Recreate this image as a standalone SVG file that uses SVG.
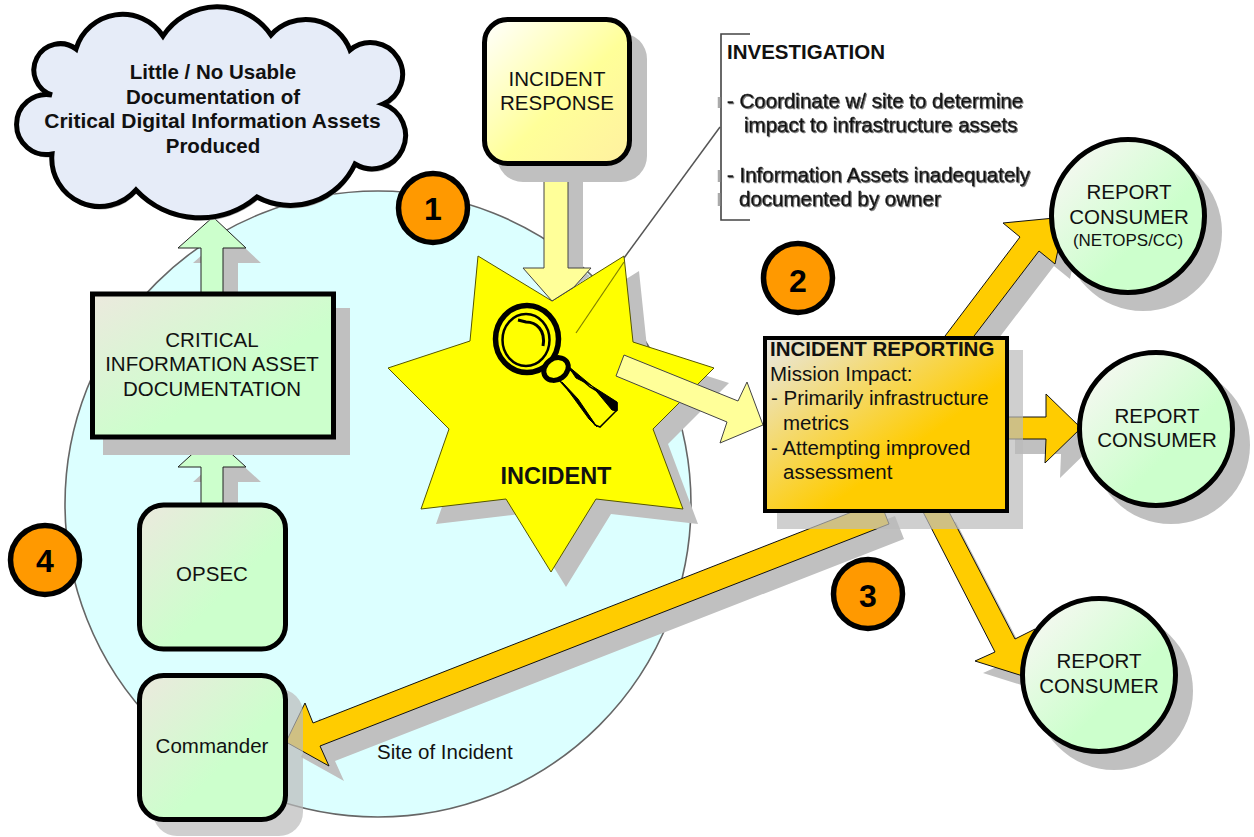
<svg xmlns="http://www.w3.org/2000/svg" xmlns:xlink="http://www.w3.org/1999/xlink" width="1254" height="837" viewBox="0 0 1254 837">
<style>
text{font-family:"Liberation Sans",Arial,sans-serif;font-size:20.5px;fill:#111}
.m{text-anchor:middle}
.b{font-weight:bold}
.sh{fill:#c0c0c0;stroke:none}
.tsh{fill:#bababa;opacity:.7;stroke:none}
.box{stroke:#000;stroke-width:5}
.num{fill:#ff9900;stroke:#000;stroke-width:5.5}
.n{font-size:32px;text-anchor:middle;font-weight:bold;fill:#000}
.ag{fill:#ccffcc;stroke:#222;stroke-width:1}
.ay{fill:#ffff99;stroke:#444;stroke-width:1}
.ao{fill:#ffcc00;stroke:#111;stroke-width:1}
.inv{stroke:#222;stroke-width:.45;filter:url(#ts)}
</style>
<defs>
<linearGradient id="gGreen" x1="0" y1="0" x2="1" y2="1"><stop offset="0" stop-color="#ece9de"/><stop offset=".6" stop-color="#ccffcc"/></linearGradient>
<linearGradient id="gCirc" x1="0" y1="0" x2="1" y2="1"><stop offset=".12" stop-color="#f4f8f0"/><stop offset=".62" stop-color="#ccffcc"/></linearGradient>
<linearGradient id="gYel" x1="0" y1="0" x2="1" y2="1"><stop offset="0" stop-color="#ffffff"/><stop offset=".55" stop-color="#ffff99"/><stop offset="1" stop-color="#fff0a0"/></linearGradient>
<linearGradient id="gOr" x1="0" y1="0" x2="1" y2="1"><stop offset="0" stop-color="#e8e8e8"/><stop offset=".62" stop-color="#ffcc00"/></linearGradient>
<filter id="ts" x="-5%" y="-30%" width="110%" height="160%"><feDropShadow dx="1" dy="1" stdDeviation=".5" flood-color="#777"/></filter>
<polygon id="pUp" points="201,293 201,248 178,248 213,217 246,248 223,248 223,293"/>
<polygon id="pUp2" points="201,505 201,467 178,467 212,436 246,467 223,467 223,505"/>
<polygon id="pYel" points="624,355 616,376 727,422 720,443 763,425 747,382 738,401"/>
<polygon id="pNE" points="942,340 1020,237 1003,223 1065,217 1055,264 1039,251 971,340"/>
<polygon id="pE" points="1000,417 1046,417 1046,394 1081,428 1045,463 1046,439 1000,439"/>
<polygon id="pSE" points="922,510 948,510 1015,639 1035,629 1042,682 975,661 995,652"/>
<polygon id="pCmd" points="880,501 313,723 305,703 286,742 329,766 320,746 889,524"/>
<path id="cloudP" d="M76,49 A48.6,48.6 0 0 1 163,36 A65,65 0 0 1 271,35 A47,47 0 0 1 350,50 A32,32 0 1 1 383,104 A33.3,33.3 0 1 1 355,164 A71,71 0 0 1 257,197 A88,88 0 0 1 136,190 A48,48 0 0 1 52,154 A30,30 0 1 1 52,95 A26.3,26.3 0 1 1 76,49 Z"/>
</defs>
<rect width="1254" height="837" fill="#fff"/>

<g id="site">
<circle cx="378" cy="504" r="313" fill="#dcffff" stroke="#666" stroke-width="1.6"/>
<text x="377" y="759">Site of Incident</text>
</g>

<g id="incident">
<polygon class="sh" transform="translate(15,15)" points="478,256 552,301 624,256 633,342 714,368 653,429 683,509 596,499 551,572 506,499 421,509 449,429 388,368 470,341"/>
<polygon fill="#ffff00" stroke="#555500" stroke-width="1" points="478,256 552,301 624,256 633,342 714,368 653,429 683,509 596,499 551,572 506,499 421,509 449,429 388,368 470,341"/>
<g id="magnifier">
<ellipse cx="527" cy="339" rx="31.5" ry="33.5" fill="none" stroke="#000" stroke-width="5.5"/>
<ellipse cx="526" cy="340" rx="23.5" ry="26" fill="none" stroke="#000" stroke-width="2.5"/>
<path d="M518,320 L526,322 C536,322 546,330 543,346" fill="none" stroke="#000" stroke-width="3"/>
<polygon fill="#ffff00" stroke="#000" stroke-width="1.500" points="568,368 590,387 617,403 617,410 600,427 595,425 577,400 560,381"/>
<path d="M568,366 L592,386 L576,378 Z M592,386 L617,402 L617,411 L612,410 Z M562,382 L578,399 L597,427 L589,419 Z" fill="#000" stroke="#000" stroke-width="1"/>
<ellipse cx="556" cy="369" rx="13" ry="10.500" transform="rotate(-35 556 369)" fill="#ffff00" stroke="#000" stroke-width="5"/>
</g>
<text class="m b" x="556" y="484" style="font-size:23.500px">INCIDENT</text>
</g>

<g id="connectors">
<use href="#pUp" class="sh" transform="translate(15,15)"/>
<use href="#pUp" class="ag"/>
<use href="#pUp2" class="sh" transform="translate(15,15)"/>
<use href="#pUp2" class="ag"/>
<polygon class="sh" points="568,170 583,170 583,271 590,276 574,287 568,268"/>
<polygon class="ay" points="544,166 544,268 523,268 552,301 574,287 591,268 568,268 568,166"/>
<use href="#pYel" class="ay"/>
<use href="#pNE" class="sh" transform="translate(15,15)"/>
<use href="#pE" class="sh" transform="translate(15,15)"/>
<use href="#pSE" class="sh" transform="translate(8,12)"/>
<use href="#pCmd" class="sh" transform="translate(15,15)"/>
<use href="#pNE" class="ao"/>
<use href="#pE" class="ao"/>
<use href="#pSE" class="ao"/>
<use href="#pCmd" class="ao"/>
<path d="M720,127 L624,258" fill="none" stroke="#555" stroke-width="1.500"/>
<path d="M624,262 L576,333" fill="none" stroke="#808000" stroke-width="1.200"/>
</g>

<g id="cloud">
<use href="#cloudP" transform="translate(1,3)" fill="#aaa"/>
<use href="#cloudP" fill="#e6ecf8" stroke="#000" stroke-width="5"/>
<text class="m b" x="213" y="79">Little / No Usable</text>
<text class="m b" x="213" y="104">Documentation of</text>
<text class="m b" x="212.500" y="128" style="font-size:21px">Critical Digital Information Assets</text>
<text class="m b" x="213" y="153">Produced</text>
</g>

<g id="investigation">
<path d="M750,34 H721 V220 H750" fill="none" stroke="#444" stroke-width="1.600"/>
<path d="M719,97 V108 M719,170 V182 M719,193 V206" fill="none" stroke="#aaa" stroke-width="2.500"/>
<text class="b" x="727" y="59">INVESTIGATION</text>
<text class="inv" x="727" y="108">- Coordinate w/ site to determine</text>
<text class="inv" x="744" y="132">impact to infrastructure assets</text>
<text class="inv" x="727" y="182">- Information Assets inadequately</text>
<text class="inv" x="739" y="206">documented by owner</text>
</g>

<g id="response">
<rect class="sh" x="497" y="33" width="150" height="149" rx="26"/>
<rect class="box" x="484.500" y="19.500" width="145" height="144" rx="23" fill="url(#gYel)"/>
<text class="m" x="557" y="86">INCIDENT</text>
<text class="m" x="557" y="110">RESPONSE</text>
</g>

<g id="critical">
<rect class="sh" x="103" y="308" width="247" height="147"/>
<rect class="box" x="92.500" y="294" width="241" height="143" fill="url(#gGreen)"/>
<text class="m" x="212" y="347">CRITICAL</text>
<text class="m" x="212" y="371">INFORMATION ASSET</text>
<text class="m" x="212" y="396">DOCUMENTATION</text>
</g>

<g id="opsec">
<rect class="box" x="139.500" y="505" width="146" height="144" rx="24" fill="url(#gGreen)"/>
<text class="m" x="212" y="581">OPSEC</text>
</g>

<g id="commander">
<rect class="tsh" x="153" y="689" width="150" height="147" rx="24"/>
<rect class="box" x="139.500" y="675.500" width="146" height="144" rx="24" fill="url(#gGreen)"/>
<text class="m" x="212" y="753">Commander</text>
</g>

<g id="reporting">
<rect class="tsh" x="777" y="350" width="246" height="179"/>
<rect x="765" y="338" width="242" height="173" fill="url(#gOr)" stroke="#000" stroke-width="4"/>
<text class="b" x="770" y="356">INCIDENT REPORTING</text>
<text x="770" y="381">Mission Impact:</text>
<text x="771" y="405">- Primarily infrastructure</text>
<text x="783" y="430">metrics</text>
<text x="771" y="455">- Attempting improved</text>
<text x="783" y="479">assessment</text>
</g>

<g id="consumer1">
<circle class="sh" cx="1143" cy="232" r="79"/>
<circle class="box" cx="1128" cy="216" r="76.500" fill="url(#gCirc)"/>
<text class="m" x="1129" y="199">REPORT</text>
<text class="m" x="1129" y="224">CONSUMER</text>
<text class="m" x="1128" y="246" style="font-size:17px">(NETOPS/CC)</text>
</g>
<g id="consumer2">
<circle class="sh" cx="1171" cy="445" r="79"/>
<circle class="box" cx="1156" cy="429" r="76.500" fill="url(#gCirc)"/>
<text class="m" x="1157" y="423">REPORT</text>
<text class="m" x="1157" y="447">CONSUMER</text>
</g>
<g id="consumer3">
<circle class="sh" cx="1114" cy="691" r="79"/>
<circle class="box" cx="1099" cy="675" r="76.500" fill="url(#gCirc)"/>
<text class="m" x="1099" y="668">REPORT</text>
<text class="m" x="1099" y="693">CONSUMER</text>
</g>

<g id="n1"><circle class="num" cx="433" cy="208" r="34.500"/><text class="n" x="433" y="220">1</text></g>
<g id="n2"><circle class="num" cx="798" cy="278" r="34.500"/><text class="n" x="798" y="292">2</text></g>
<g id="n3"><circle class="num" cx="868" cy="594" r="34.500"/><text class="n" x="868" y="607">3</text></g>
<g id="n4"><circle class="num" cx="45" cy="560" r="34.500"/><text class="n" x="45" y="572">4</text></g>
</svg>
